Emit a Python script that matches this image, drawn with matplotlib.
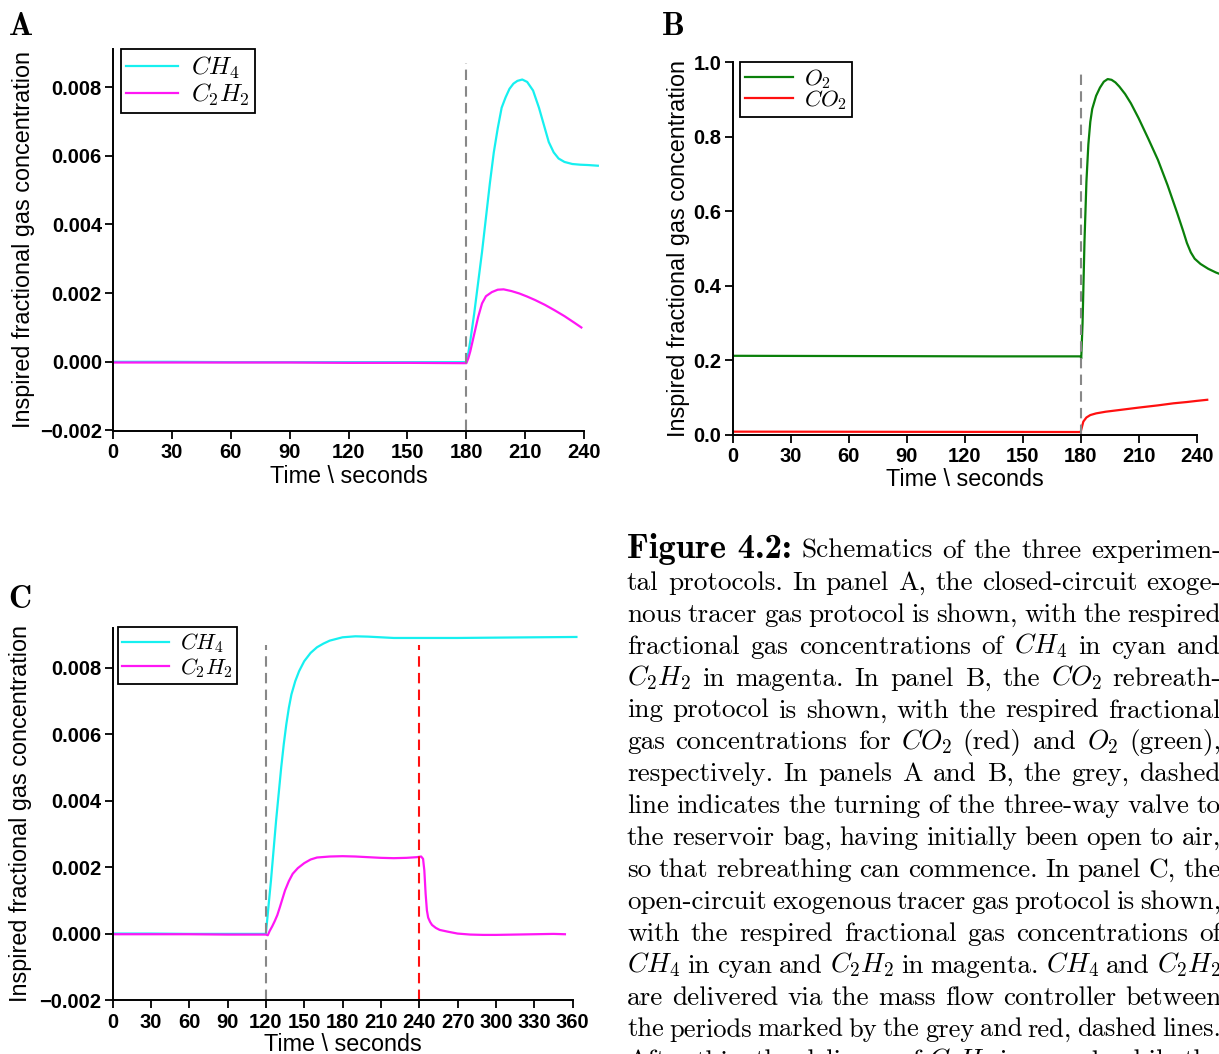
import numpy as np
import matplotlib
matplotlib.use("Agg")
import matplotlib.pyplot as plt
from matplotlib.ticker import FuncFormatter

plt.rcParams['font.family'] = ['Liberation Sans', 'DejaVu Sans']
plt.rcParams['mathtext.fontset'] = 'cm'

# ---- panel A: closed-circuit exogenous tracer gas ----
a_ch4_t = [0, 30, 60, 90, 120, 150, 180, 181, 182, 184, 186, 188, 190, 192, 194,
           196, 198, 200, 202, 204, 206, 208.5, 211, 214, 217, 220, 222, 224.5, 227,
           230, 234, 238, 242, 247]
a_ch4 = [0.0, 0.0, -0.00001, -0.00001, -0.00001, -0.00001, -0.00001, 0.00025, 0.0006,
         0.0014, 0.0023, 0.0032, 0.0042, 0.0052, 0.0061, 0.0068, 0.0074, 0.0077,
         0.00795, 0.0081, 0.00818, 0.00822, 0.00815, 0.0079, 0.0074, 0.0068, 0.0064,
         0.0061, 0.00592, 0.00582, 0.00576, 0.00574, 0.00573, 0.00571]
a_c2h2_t = [0, 30, 60, 90, 120, 150, 180, 181, 182, 184, 186, 188, 190, 193, 196, 199,
            203, 207, 211, 215, 220, 225, 230, 235, 238.6]
a_c2h2 = [-0.00002, -0.00002, -0.00002, -0.00002, -0.00003, -0.00003, -0.00004, 0.0001,
          0.0003, 0.0008, 0.0013, 0.0017, 0.00191, 0.00203, 0.0021, 0.00211, 0.00206,
          0.00199, 0.0019, 0.0018, 0.00166, 0.0015, 0.00133, 0.00114, 0.0010]

# ---- panel B: CO2 rebreathing ----
b_o2_t = [0, 45, 90, 135, 180, 180.3, 181, 182, 183, 184, 185, 186, 188, 190, 192, 194,
          196, 198, 200, 203, 206, 210, 215, 220, 225, 230, 233, 235, 237, 239, 242,
          246, 250, 253]
b_o2 = [0.2125, 0.212, 0.2115, 0.211, 0.211, 0.205, 0.30, 0.52, 0.68, 0.78, 0.84, 0.875,
        0.91, 0.932, 0.948, 0.955, 0.953, 0.946, 0.935, 0.915, 0.89, 0.85, 0.795, 0.738,
        0.67, 0.595, 0.548, 0.515, 0.49, 0.473, 0.459, 0.446, 0.436, 0.43]
b_co2_t = [0, 45, 90, 135, 180, 180.5, 181.4, 183, 185, 188, 193, 200, 210, 220, 228,
           235, 240, 245.5]
b_co2 = [0.009, 0.0088, 0.0085, 0.0083, 0.008, 0.018, 0.036, 0.047, 0.0535, 0.058,
         0.0625, 0.067, 0.0735, 0.0795, 0.085, 0.0885, 0.0915, 0.0945]

# ---- panel C: open-circuit exogenous tracer gas ----
c_ch4_t = [0, 30, 60, 90, 120, 122, 124, 126, 128, 130, 132, 134, 136, 138, 140, 143,
           146, 150, 155, 160, 165, 170, 175, 180, 190, 200, 210, 220, 240, 270, 300,
           330, 363]
c_ch4 = [0.0, 0.0, -0.00001, -0.00001, -0.00001, 0.0008, 0.0016, 0.0025, 0.0034, 0.0042,
         0.0050, 0.0057, 0.0063, 0.0068, 0.0072, 0.0076, 0.0079, 0.0082, 0.00845,
         0.00862, 0.00873, 0.00882, 0.00887, 0.00892, 0.00895, 0.00894, 0.00892,
         0.0089, 0.0089, 0.0089, 0.00891, 0.00892, 0.00893]
c_c2h2_t = [0, 30, 60, 90, 120, 121.5, 123, 125, 127, 129, 131, 133, 135, 138, 141, 145,
            150, 155, 160, 170, 180, 190, 200, 210, 220, 230, 238, 241.5, 243, 244, 245,
            246, 247, 248.5, 250, 253, 256, 262, 270, 280, 290, 300, 315, 330, 345, 354]
c_c2h2 = [-0.00002, -0.00002, -0.00002, -0.00003, -0.00003, -0.00005, 0.00008, 0.00022,
          0.00038, 0.00056, 0.0008, 0.00105, 0.0013, 0.00158, 0.0018, 0.00197, 0.00212,
          0.00223, 0.00229, 0.00232, 0.00233, 0.00232, 0.0023, 0.00228, 0.00227,
          0.00228, 0.0023, 0.00232, 0.00225, 0.0019, 0.0012, 0.0007, 0.00048, 0.00035,
          0.00026, 0.00017, 0.00011, 0.00006, 0.0, -0.00003, -0.00004, -0.00004,
          -0.00003, -0.00002, -0.00001, -0.00002]

valve_a, valve_b, valve_c, stop_c = 180, 180, 120, 240

CYAN, MAGENTA, GREEN, RED, GREY = '#16f0f0', '#ff16f5', '#0a800a', '#ff1010', '#888888'

W, H = 1219, 1054
fig = plt.figure(figsize=(W / 100, H / 100), dpi=100)


def px_axes(l, t, r, b):
    return fig.add_axes([l / W, 1 - b / H, (r - l) / W, (b - t) / H])


def minus(fmt):
    return FuncFormatter(lambda v, p: (fmt % v).replace('-', '\u2212'))


def style(ax, xticks, xbound, yticks, fmt):
    for s in ('top', 'right'):
        ax.spines[s].set_visible(False)
    for s in ('left', 'bottom'):
        ax.spines[s].set_linewidth(1.4)
    ax.spines['bottom'].set_bounds(*xbound)
    ax.set_xticks(xticks)
    ax.set_yticks(yticks)
    ax.yaxis.set_major_formatter(minus(fmt))
    ax.tick_params(direction='out', length=5.5, width=1.3, labelsize=14.5)
    ax.tick_params(axis='y', pad=2.5)
    ax.tick_params(axis='x', pad=3.5)
    for lab in ax.get_xticklabels() + ax.get_yticklabels():
        lab.set_fontweight('bold')
    ax.set_xlabel('Time \\ seconds', fontsize=16.8)
    ax.set_ylabel('Inspired fractional gas concentration', fontsize=16.8)


def legend(ax, x, y, size, spacing=0.05):
    leg = ax.legend(loc='upper left', bbox_to_anchor=(x, y), borderaxespad=0,
                    fontsize=size, fancybox=False, framealpha=1, edgecolor='black',
                    handlelength=2.1, handletextpad=0.5, labelspacing=spacing,
                    borderpad=0.2)
    leg.get_frame().set_linewidth(1.3)


# panel A
axA = px_axes(113, 49.3, 599.8, 430.5)
axA.plot(a_ch4_t, a_ch4, color=CYAN, lw=1.6, label='$CH_4$')
axA.plot(a_c2h2_t, a_c2h2, color=MAGENTA, lw=1.6, label='$C_2H_2$')
axA.vlines(valve_a, -0.002, 0.0087, colors=GREY, linestyles=(0, (5, 3)), lw=1.5)
axA.set_xlim(0, 248)
axA.set_ylim(-0.002, 0.0091)
style(axA, range(0, 241, 30), (0, 240), [-0.002, 0, 0.002, 0.004, 0.006, 0.008], '%.3f')
axA.xaxis.set_label_coords(120 / 248, -0.09)
axA.yaxis.set_label_coords(-0.16, 0.5)
legend(axA, 0.0164, 1.0, 18)

# panel B
axB = px_axes(732.7, 62.3, 1219.8, 435)
axB.plot(b_o2_t, b_o2, color=GREEN, lw=1.6, label='$O_2$')
axB.plot(b_co2_t, b_co2, color=RED, lw=1.6, label='$CO_2$')
axB.vlines(valve_b, 0, 0.973, colors=GREY, linestyles=(0, (5, 3)), lw=1.5)
axB.set_xlim(0, 252)
axB.set_ylim(0, 1.0)
style(axB, range(0, 241, 30), (0, 240), [0, 0.2, 0.4, 0.6, 0.8, 1.0], '%.1f')
axB.xaxis.set_label_coords(120 / 252, -0.088)
axB.yaxis.set_label_coords(-0.087, 0.5)
legend(axB, 0.015, 1.0, 16.5, spacing=-0.1)

# panel C
axC = px_axes(112.5, 628, 577.7, 1000)
axC.plot(c_ch4_t, c_ch4, color=CYAN, lw=1.6, label='$CH_4$')
axC.plot(c_c2h2_t, c_c2h2, color=MAGENTA, lw=1.6, label='$C_2H_2$')
axC.vlines(valve_c, -0.002, 0.0087, colors=GREY, linestyles=(0, (5, 3)), lw=1.5)
axC.vlines(stop_c, -0.002, 0.0087, colors=RED, linestyles=(0, (5, 3)), lw=1.5)
axC.set_xlim(0, 364)
axC.set_ylim(-0.002, 0.0092)
style(axC, range(0, 361, 30), (0, 360), [-0.002, 0, 0.002, 0.004, 0.006, 0.008], '%.3f')
axC.xaxis.set_label_coords(180 / 364, -0.089)
axC.yaxis.set_label_coords(-0.173, 0.5)
legend(axC, 0.0118, 1.003, 16)

# panel letters
for letter, x, y in (('A', 9, 35), ('B', 662, 35), ('C', 8, 608)):
    fig.text(x / W, 1 - y / H, letter, family='cmb10', fontsize=23, va='baseline')

# caption, justified line by line
caption = [
    "Schematics of the three experimen-",
    "tal protocols.  In panel A, the closed-circuit exoge-",
    "nous tracer gas protocol is shown, with the respired",
    "fractional gas concentrations of $CH_4$ in cyan and",
    "$C_2H_2$ in magenta.  In panel B, the $CO_2$ rebreath-",
    "ing protocol is shown, with the respired fractional",
    "gas concentrations for $CO_2$ (red) and $O_2$ (green),",
    "respectively.  In panels A and B, the grey, dashed",
    "line indicates the turning of the three-way valve to",
    "the reservoir bag, having initially been open to air,",
    "so that rebreathing can commence. In panel C, the",
    "open-circuit exogenous tracer gas protocol is shown,",
    "with the respired fractional gas concentrations of",
    "$CH_4$ in cyan and $C_2H_2$ in magenta. $CH_4$ and $C_2H_2$",
    "are delivered via the mass flow controller between",
    "the periods marked by the grey and red, dashed lines.",
    "After this, the delivery of $C_2H_2$ is ceased, while the",
]
cap_left, cap_right, base0, step = 627, 1221, 558, 31.9
body_size, min_gap = 19.6, 5.5
renderer = fig.canvas.get_renderer()

for i, line in enumerate(caption):
    y = 1 - (base0 + i * step) / H
    texts = []
    if i == 0:
        texts.append(fig.text(0, y, 'Figure 4.2:', family='cmb10', fontsize=25,
                              va='baseline'))
    body = [fig.text(0, y, word, family='cmr10', fontsize=body_size, va='baseline')
            for word in line.split()]
    texts += body
    widths = [t.get_window_extent(renderer).width for t in texts]
    n_gaps = len(texts) - 1
    room = cap_right - cap_left - n_gaps * min_gap
    if sum(widths) > room:
        # squeeze an over-full line a little instead of letting it run past the margin
        fixed = sum(widths) - sum(widths[-len(body):])
        scale = (room - fixed) / (sum(widths) - fixed)
        for t in body:
            t.set_fontsize(body_size * scale)
        widths = [t.get_window_extent(renderer).width for t in texts]
    gap = (cap_right - cap_left - sum(widths)) / n_gaps
    x = cap_left
    for t, w in zip(texts, widths):
        t.set_x(x / W)
        x += w + gap

fig.savefig('out.png', dpi=100)
